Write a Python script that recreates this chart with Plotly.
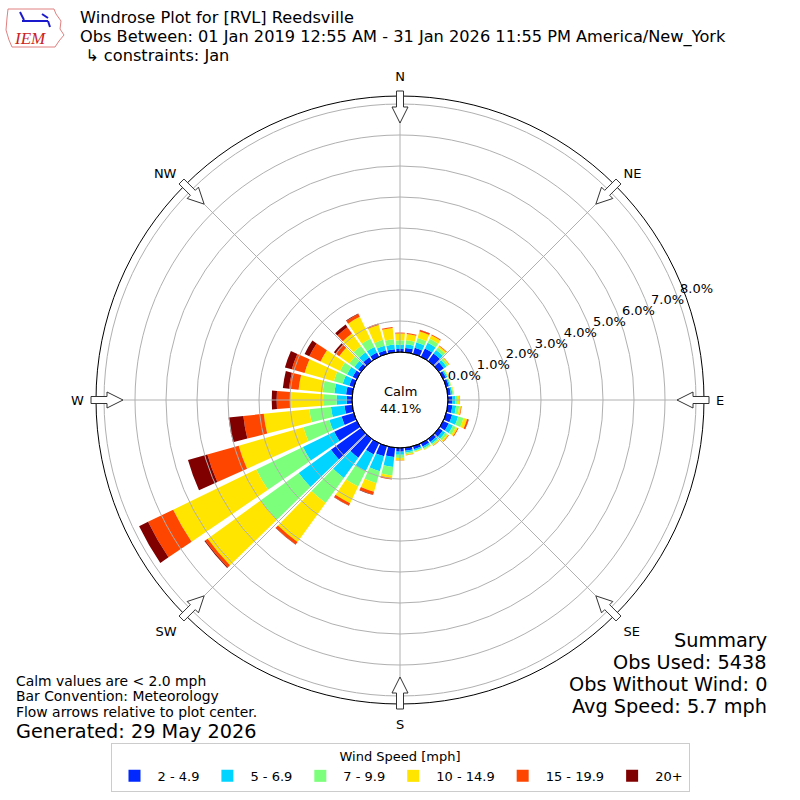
import plotly.graph_objects as go
import math

# ---------------- data (percent of observations) ----------------
directions = list(range(0, 360, 10))
speed_bins = ["2 - 4.9", "5 - 6.9", "7 - 9.9", "10 - 14.9", "15 - 19.9", "20+"]
colors = ["#0028ff", "#00d4ff", "#7cff7a", "#ffe500", "#ff4600", "#800000"]

s_2_49 = [0.10, 0.14, 0.20, 0.30, 0.30, 0.20, 0.10, 0.09, 0.10, 0.14, 0.15, 0.20,
          0.20, 0.15, 0.12, 0.12, 0.10, 0.10, 0.12, 0.30, 0.34, 0.40, 0.75, 1.20,
          0.81, 0.41, 0.25, 0.17, 0.20, 0.15, 0.15, 0.12, 0.15, 0.15, 0.12, 0.10]
s_5_69 = [0.13, 0.12, 0.18, 0.20, 0.14, 0.10, 0.05, 0.04, 0.05, 0.10, 0.12, 0.20,
          0.15, 0.10, 0.07, 0.06, 0.05, 0.06, 0.10, 0.32, 0.50, 0.60, 0.80, 1.28,
          1.12, 0.41, 0.44, 0.33, 0.38, 0.22, 0.20, 0.15, 0.20, 0.20, 0.15, 0.15]
s_7_99 = [0.15, 0.13, 0.15, 0.15, 0.10, 0.07, 0.03, 0.03, 0.03, 0.08, 0.10, 0.18,
          0.10, 0.08, 0.05, 0.04, 0.03, 0.05, 0.10, 0.28, 0.40, 0.55, 1.00, 1.52,
          1.67, 0.87, 0.70, 0.43, 0.38, 0.30, 0.25, 0.20, 0.25, 0.30, 0.20, 0.17]
s_10_149 = [0.22, 0.20, 0.22, 0.12, 0.06, 0.04, 0.02, 0.01, 0.02, 0.05, 0.06, 0.12,
            0.07, 0.05, 0.03, 0.02, 0.02, 0.03, 0.08, 0.08, 0.29, 0.60, 1.55, 2.10,
            2.98, 2.17, 1.48, 1.07, 0.78, 0.98, 0.70, 0.40, 0.50, 0.78, 0.50, 0.37]
s_15_199 = [0.03, 0.03, 0.05, 0.03, 0.02, 0.01, 0.00, 0.00, 0.00, 0.01, 0.02, 0.05,
            0.03, 0.02, 0.01, 0.00, 0.00, 0.01, 0.01, 0.05, 0.10, 0.08, 0.10, 0.10,
            0.90, 1.05, 0.66, 0.43, 0.31, 0.43, 0.40, 0.15, 0.25, 0.10, 0.05, 0.03]
s_20p = [0.00, 0.00, 0.01, 0.00, 0.00, 0.00, 0.00, 0.00, 0.00, 0.00, 0.00, 0.01,
         0.00, 0.00, 0.00, 0.00, 0.00, 0.00, 0.00, 0.00, 0.01, 0.01, 0.01, 0.03,
         0.32, 0.65, 0.48, 0.16, 0.20, 0.23, 0.17, 0.06, 0.10, 0.02, 0.00, 0.00]
series = [s_2_49, s_5_69, s_7_99, s_10_149, s_15_199, s_20p]

radial_ticks = [0, 1, 2, 3, 4, 5, 6, 7, 8]
radial_labels = ["%.1f%%" % v for v in radial_ticks]
compass_vals = [0, 45, 90, 135, 180, 225, 270, 315]
compass_labels = ["N", "NE", "E", "SE", "S", "SW", "W", "NW"]

calm_pct = 44.1
title_lines = ["Windrose Plot for [RVL] Reedsville",
               "Obs Between: 01 Jan 2019 12:55 AM - 31 Jan 2026 11:55 PM America/New_York",
               " \u21b3 constraints: Jan"]
notes = ["Calm values are < 2.0 mph", "Bar Convention: Meteorology",
         "Flow arrows relative to plot center."]
generated = "Generated: 29 May 2026"
summary = ["Summary", "Obs Used: 5438", "Obs Without Wind: 0", "Avg Speed: 5.7 mph"]

# ---------------- figure ----------------
W = H = 800
FONT = "DejaVu Sans"
R_OUT = 304.0
R_HOLE = 48.0
PX_PER_PCT = 31.0
rmax = (R_OUT - R_HOLE) / PX_PER_PCT
LAB_ANGLE = 20.5

# label ring: a larger, transparent polar that only carries the % labels
R_LAB = 345.0
LAB_SHIFT = 1.19   # labels sit a little outward of their circle
lab_range = [-LAB_SHIFT, -LAB_SHIFT + (R_LAB - R_HOLE) / PX_PER_PCT]
LAB_CX, LAB_CY = 404.6, 412.3   # nudged so the horizontal labels sit on the label line


def P(x, y):
    return x / W, 1 - y / H


fig = go.Figure()
for name, col, vals in zip(speed_bins, colors, series):
    fig.add_trace(go.Barpolar(r=vals, theta=directions, name=name, width=8.4,
                              marker=dict(color=col, line=dict(width=0)),
                              subplot="polar"))
for sp in ["polar2", "polar3"]:
    fig.add_trace(go.Scatterpolar(r=[0], theta=[0], mode="markers",
                                  marker=dict(size=0.1, opacity=0),
                                  showlegend=False, hoverinfo="skip", subplot=sp))


def dom_for(R, cx=400.0, cy=400.0):
    return dict(x=[(cx - R) / W, (cx + R) / W], y=[1 - (cy + R) / H, 1 - (cy - R) / H])


grid_col = "#b0b0b0"
hidden_ang = dict(direction="clockwise", rotation=90, showticklabels=False,
                  showline=False, showgrid=False, ticks="")

fig.update_layout(
    width=W, height=H, margin=dict(l=0, r=0, t=0, b=0),
    paper_bgcolor="white", plot_bgcolor="white",
    font=dict(family=FONT, size=13, color="black"),
    polar=dict(
        domain=dom_for(R_OUT), hole=R_HOLE / R_OUT, bgcolor="white", barmode="stack",
        radialaxis=dict(range=[0, rmax], tickvals=radial_ticks, showline=False, ticks="",
                        showgrid=False, showticklabels=False),
        angularaxis=dict(direction="clockwise", rotation=90, tickvals=compass_vals,
                         ticktext=compass_labels, showline=True, linecolor="black",
                         linewidth=1, showgrid=False, ticks="outside", ticklen=9,
                         tickcolor="rgba(0,0,0,0)", tickfont=dict(size=13)),
    ),
    polar2=dict(
        domain=dom_for(R_OUT), hole=R_HOLE / R_OUT, bgcolor="rgba(0,0,0,0)",
        radialaxis=dict(range=[0, rmax], tickvals=radial_ticks, showline=False, ticks="",
                        showgrid=True, gridcolor=grid_col, gridwidth=1,
                        showticklabels=False),
        angularaxis=dict(direction="clockwise", rotation=90, tickvals=compass_vals,
                         showticklabels=False, showline=False, showgrid=True,
                         gridcolor=grid_col, gridwidth=1, ticks=""),
    ),
    polar3=dict(
        domain=dom_for(R_LAB, LAB_CX, LAB_CY), hole=R_HOLE / R_LAB, bgcolor="rgba(0,0,0,0)",
        radialaxis=dict(range=lab_range, tickvals=radial_ticks, ticktext=radial_labels,
                        angle=LAB_ANGLE, tickangle=LAB_ANGLE, showline=False, ticks="",
                        showgrid=False, side="counterclockwise", tickfont=dict(size=13)),
        angularaxis=hidden_ang,
    ),
    showlegend=True,
    legend=dict(orientation="h", x=0.5, xanchor="center", y=1 - 743 / H, yanchor="top",
                bordercolor="#cccccc", borderwidth=1, bgcolor="white",
                font=dict(size=13), itemwidth=36,
                title=dict(text="Wind Speed [mph]", side="top center", font=dict(size=13))),
)

shapes = []
# hole edge
x0, y0 = P(400 - R_HOLE, 400 + R_HOLE)
x1, y1 = P(400 + R_HOLE, 400 - R_HOLE)
shapes.append(dict(type="circle", xref="paper", yref="paper", x0=x0, y0=y0, x1=x1, y1=y1,
                   line=dict(color="black", width=1), fillcolor="rgba(0,0,0,0)", layer="above"))

# flow arrows
arrow_local = [(309, -3.5), (293, -3.5), (293, -8), (277, 0), (293, 8), (293, 3.5), (309, 3.5)]
for th in compass_vals:
    s, c = math.sin(math.radians(th)), math.cos(math.radians(th))
    pts = []
    for r, t in arrow_local:
        px = 400 + r * s + t * c
        py = 400 - r * c + t * s
        pts.append(P(px, py))
    path = "M " + " L ".join("%.5f,%.5f" % p for p in pts) + " Z"
    shapes.append(dict(type="path", xref="paper", yref="paper", path=path,
                       fillcolor="white", line=dict(color="#333333", width=1), layer="above"))

# IEM logo outline (rough)
logo_pts = [(8, 9), (54, 9), (56, 14), (61, 21), (60, 29), (64, 35), (59, 41), (55, 47), (12, 47), (9, 40), (6, 30), (7, 18)]
path = "M " + " L ".join("%.5f,%.5f" % P(*p) for p in logo_pts) + " Z"
shapes.append(dict(type="path", xref="paper", yref="paper", path=path,
                   fillcolor="white", line=dict(color="#e08080", width=1)))
for (a, b) in [((22, 21), (48, 21)), ((20, 12), (24, 20)), ((42, 14), (48, 18)), ((48, 21), (50, 27))]:
    lx0, ly0 = P(*a)
    lx1, ly1 = P(*b)
    shapes.append(dict(type="line", xref="paper", yref="paper", x0=lx0, y0=ly0, x1=lx1, y1=ly1,
                       line=dict(color="#1a1acc", width=2)))
fig.update_layout(shapes=shapes)

ann = []


def text(x, y, s, size, xanchor="left", color="black", family=FONT, yanchor="middle"):
    ax, ay = P(x, y)
    ann.append(dict(x=ax, y=ay, xref="paper", yref="paper", text=s, showarrow=False,
                    xanchor=xanchor, yanchor=yanchor, borderpad=0,
                    font=dict(size=size, color=color, family=family)))


title_y = [17.6, 37.0, 55.2]
for yy, line in zip(title_y, title_lines):
    text(79, yy, line, 16.2)
text(30, 38.5, "<i>IEM</i>", 17, xanchor="center", color="#cc2222", family="Liberation Serif")
text(400, 400, "Calm<br>%.1f%%" % calm_pct, 13, xanchor="center")
for i, line in enumerate(notes):
    text(15, 680.7 + i * 15.7, line, 13.9)
text(15, 731, generated, 19.3)
for i, line in enumerate(summary):
    text(768, 640 + i * 22, line, 19.3, xanchor="right")
fig.update_layout(annotations=ann)

fig.write_html("out.html", config={"displayModeBar": False},
               post_script="document.body.style.margin='0';document.body.style.overflow='hidden';")
